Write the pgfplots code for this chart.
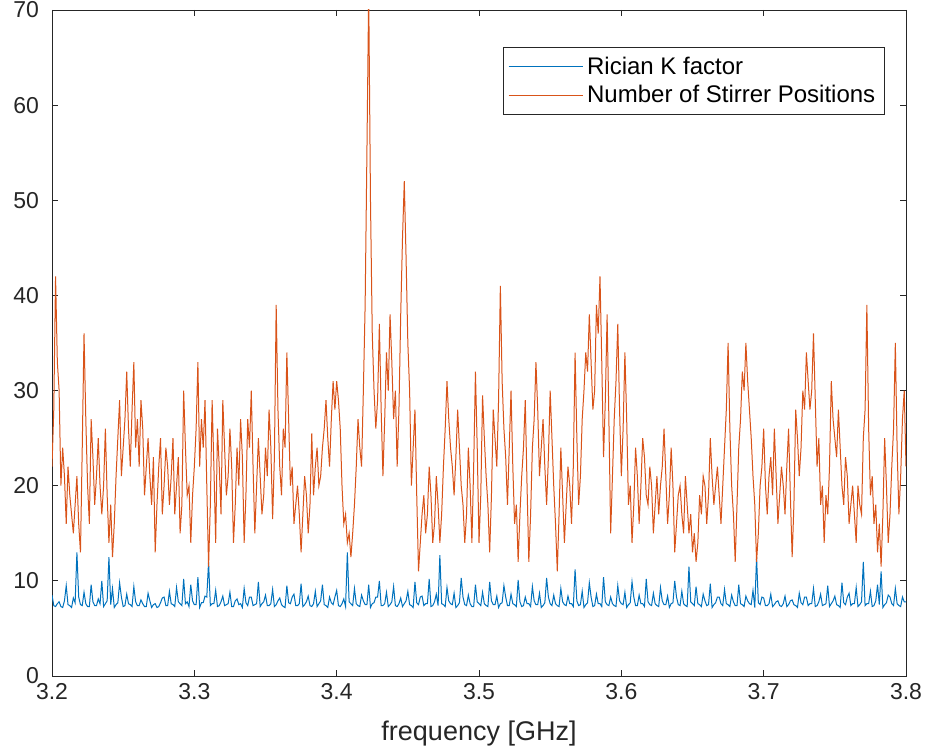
\documentclass[border=0pt]{standalone}
\usepackage{pgfplots}
\pgfplotsset{compat=1.18}
\usepackage{pgfplotstable}
\usepackage{fontspec}
\setmainfont{Liberation Sans}
\definecolor{mblue}{rgb}{0,0.447,0.741}
\definecolor{morange}{rgb}{0.85,0.325,0.098}
\definecolor{axgray}{rgb}{0.15,0.15,0.15}
\pgfplotsset{mlegend/.style={legend image code/.code={\draw[#1] (0pt,0pt) -- (37pt,0pt);}}}
\pgfplotstableread{
f k n
3.2000 8.5 22
3.20125 7.4 28
3.2025 7.3 42
3.20375 7.6 33
3.2050 7.8 30
3.20625 7.3 20
3.2075 7.2 24
3.20875 7.9 21
3.2100 9.5 16
3.21125 7.5 22
3.2125 7.4 19
3.21375 7.2 17
3.2150 8.2 15
3.21625 7.7 18
3.2175 13 21
3.21875 8.3 16
3.2200 7.5 13
3.22125 7.4 24
3.2225 8.8 36
3.22375 7.6 27
3.2250 7.3 20
3.22625 7.3 16
3.2275 9.6 27
3.22875 7.8 23
3.2300 7.4 18
3.23125 7.4 21
3.2325 8.1 25
3.23375 7.6 20
3.2350 10 17
3.23625 7.3 20
3.2375 7.6 26
3.23875 7.9 19
3.2400 12.5 14
3.24125 7.5 18
3.2425 9.2 12.5
3.24375 7.2 16
3.2450 7.5 21
3.24625 7.7 25
3.2475 9.8 29
3.24875 8.3 21
3.2500 7.3 24
3.25125 7.4 27
3.2525 8.6 32
3.25375 7.6 26
3.2550 7.5 22
3.25625 7.3 28
3.2575 9.4 33
3.25875 7.8 24
3.2600 7.4 27
3.26125 7.4 22
3.2625 8.0 29
3.26375 7.6 26
3.2650 7.3 19
3.26625 7.3 22
3.2675 8.7 25
3.26875 7.9 21
3.2700 7.2 18
3.27125 7.5 23
3.2725 7.6 13
3.27375 7.2 18
3.2750 7.3 22
3.27625 7.7 25
3.2775 8.2 17
3.27875 8.3 20
3.2800 7.4 24
3.28125 7.4 22
3.2825 8.9 18
3.28375 7.6 21
3.2850 7.5 25
3.28625 7.3 17
3.2875 9.3 20
3.28875 7.8 23
3.2900 7.6 15
3.29125 7.4 18
3.2925 10.2 30
3.29375 7.6 24
3.2950 7.8 19
3.29625 7.3 20
3.2975 9.6 14
3.29875 7.9 19
3.3000 7.5 22
3.30125 7.5 26
3.3025 10.4 33
3.30375 7.2 22
3.3050 7.7 27
3.30625 7.7 24
3.3075 8.4 29
3.30875 8.3 20
3.3100 12 11.5
3.31125 7.4 18
3.3125 7.6 29
3.31375 7.6 22
3.3150 9.0 14
3.31625 7.3 26
3.3175 7.4 22
3.31875 7.8 17
3.3200 8.4 29
3.32125 7.4 24
3.3225 7.5 19
3.32375 7.6 21
3.3250 8.8 26
3.32625 7.3 22
3.3275 7.3 14
3.32875 7.9 18
3.3300 8.1 24
3.33125 7.5 20
3.3325 7.6 27
3.33375 7.2 23
3.3350 9.2 14
3.33625 7.7 19
3.3375 7.4 27
3.33875 8.3 24
3.3400 8.3 30
3.34125 7.4 22
3.3425 7.5 15
3.34375 7.6 20
3.3450 9.9 25
3.34625 7.3 21
3.3475 7.6 17
3.34875 7.8 19
3.3500 8.5 24
3.35125 7.4 21
3.3525 7.4 28
3.35375 7.6 24
3.3550 9.1 16.5
3.35625 7.3 23
3.3575 7.5 39
3.35875 7.9 28
3.3600 8.2 22
3.36125 7.5 19
3.3625 7.3 26
3.36375 7.2 24
3.3650 9.5 34
3.36625 7.7 27
3.3675 7.6 20
3.36875 8.3 22
3.3700 8.6 16
3.37125 7.4 18
3.3725 7.4 20
3.37375 7.6 17
3.3750 9.7 13
3.37625 7.3 17
3.3775 7.5 21
3.37875 7.8 19
3.3800 8.4 15
3.38125 7.4 18
3.3825 7.3 25.5
3.38375 7.6 19
3.3850 8.9 22
3.38625 7.3 24
3.3875 7.6 20
3.38875 7.9 21
3.3900 9.6 24
3.39125 7.5 26
3.3925 7.4 29
3.39375 7.2 25
3.3950 8.3 22
3.39625 7.7 27
3.3975 7.5 31
3.39875 8.3 28
3.4000 9.0 31
3.40125 7.4 29
3.4025 7.3 26
3.40375 7.6 20
3.4050 8.1 16
3.40625 7.3 17
3.4075 13 14
3.40875 7.8 15
3.4100 7.6 12.5
3.41125 7.4 15
3.4125 9.2 18
3.41375 7.6 22
3.4150 7.4 27
3.41625 7.3 24
3.4175 8.5 22
3.41875 7.9 30
3.4200 7.5 39
3.42125 7.5 55
3.4225 9.6 72
3.42375 7.2 50
3.4250 7.6 36
3.42625 7.7 30
3.4275 8.3 26
3.42875 8.3 29
3.4300 10 37
3.43125 7.4 28
3.4325 7.4 21
3.43375 7.6 27
3.4350 8.8 34
3.43625 7.3 30
3.4375 7.5 38
3.43875 7.8 33
3.4400 9.4 27
3.44125 7.4 30
3.4425 7.3 22
3.44375 7.6 28
3.4450 8.2 38
3.44625 7.3 46
3.4475 7.6 52
3.44875 7.9 44
3.4500 8.9 35
3.45125 7.5 30
3.4525 7.4 20
3.45375 7.2 24
3.4550 9.9 28
3.45625 7.7 19
3.4575 7.5 11
3.45875 8.3 14
3.4600 8.4 17
3.46125 7.4 19
3.4625 7.6 15
3.46375 7.6 17
3.4650 10.2 22
3.46625 7.3 19
3.4675 7.4 14
3.46875 7.8 16
3.4700 8.6 21
3.47125 7.4 18
3.4725 12.7 14
3.47375 7.6 17
3.4750 7.5 22
3.47625 7.3 26
3.4775 9.3 31
3.47875 7.9 27
3.4800 7.6 24
3.48125 7.5 22
3.4825 8.7 19
3.48375 7.2 23
3.4850 7.4 28
3.48625 7.7 24
3.4875 10.3 20
3.48875 8.3 18
3.4900 7.5 14
3.49125 7.4 17
3.4925 8.5 24
3.49375 7.6 20
3.4950 7.3 14
3.49625 7.3 22
3.4975 9.6 32
3.49875 7.8 24
3.5000 7.6 14
3.50125 7.4 19
3.5025 8.8 29.5
3.50375 7.6 25
3.5050 7.4 21
3.50625 7.3 18
3.5075 9.9 13
3.50875 7.9 19
3.5100 7.5 28
3.51125 7.5 25
3.5125 8.4 22
3.51375 7.2 29
3.5150 7.6 41
3.51625 7.7 31
3.5175 9.5 26
3.51875 8.3 23
3.5200 7.4 18
3.52125 7.4 24
3.5225 8.6 30
3.52375 7.6 22
3.5250 7.5 16
3.52625 7.3 18
3.5275 10.1 12
3.52875 7.8 17
3.5300 7.3 21
3.53125 7.4 24
3.5325 8.3 29
3.53375 7.6 20
3.5350 7.6 12
3.53625 7.3 17
3.5375 9.4 24
3.53875 7.9 27
3.5400 7.5 33
3.54125 7.5 28
3.5425 8.7 21
3.54375 7.2 24
3.5450 7.4 27
3.54625 7.7 22
3.5475 10.3 18
3.54875 8.3 23
3.5500 7.6 30
3.55125 7.4 25
3.5525 8.5 20
3.55375 7.6 16
3.5550 7.4 11
3.55625 7.3 17
3.5575 9.2 24
3.55875 7.8 19
3.5600 7.5 14
3.56125 7.4 18
3.5625 8.4 22
3.56375 7.6 20
3.5650 7.6 16
3.56625 7.3 22
3.5675 11.2 34
3.56875 7.9 25
3.5700 7.4 18
3.57125 7.5 21
3.5725 8.9 27
3.57375 7.2 30
3.5750 7.5 34
3.57625 7.7 32
3.5775 9.8 38
3.57875 8.3 33
3.5800 7.3 28
3.58125 7.4 30
3.5825 8.6 39
3.58375 7.6 36
3.5850 7.6 42
3.58625 7.3 33
3.5875 10.4 23
3.58875 7.8 29
3.5900 7.5 38
3.59125 7.4 27
3.5925 8.3 15
3.59375 7.6 21
3.5950 7.4 27
3.59625 7.3 31
3.5975 9.5 37
3.59875 7.9 28
3.6000 7.6 21
3.60125 7.5 26
3.6025 8.8 34
3.60375 7.2 27
3.6050 7.5 18
3.60625 7.7 20
3.6075 9.9 14
3.60875 8.3 18
3.6100 7.4 24
3.61125 7.4 21
3.6125 8.5 16
3.61375 7.6 20
3.6150 7.6 25
3.61625 7.3 23
3.6175 10.2 19
3.61875 7.8 18
3.6200 7.5 22
3.62125 7.4 20
3.6225 8.7 15
3.62375 7.6 18
3.6250 7.4 21
3.62625 7.3 17
3.6275 9.3 20
3.62875 7.9 22
3.6300 7.5 26
3.63125 7.5 21
3.6325 8.4 16
3.63375 7.2 19
3.6350 7.6 24
3.63625 7.7 20
3.6375 10.0 13
3.63875 8.3 16
3.6400 7.5 19
3.64125 7.4 20
3.6425 8.9 17
3.64375 7.6 15
3.6450 7.4 21
3.64625 7.3 18
3.6475 11.5 15
3.64875 7.8 17
3.6500 7.6 13
3.65125 7.4 15
3.6525 9.4 12
3.65375 7.6 14
3.6550 7.5 19
3.65625 7.3 17
3.6575 8.6 21
3.65875 7.9 20
3.6600 7.4 16
3.66125 7.5 19
3.6625 9.7 25
3.66375 7.2 21
3.6650 7.5 18
3.66625 7.7 20
3.6675 8.3 22
3.66875 8.3 19
3.6700 7.6 16
3.67125 7.4 20
3.6725 9.1 24
3.67375 7.6 28
3.6750 7.5 35
3.67625 7.3 26
3.6775 8.5 20
3.67875 7.8 17
3.6800 7.4 12
3.68125 7.4 18
3.6825 9.6 24
3.68375 7.6 27
3.6850 7.5 32
3.68625 7.3 30
3.6875 8.4 35
3.68875 7.9 31
3.6900 7.6 28
3.69125 7.5 25
3.6925 9.0 21
3.69375 7.2 18
3.6950 12.5 12
3.69625 7.7 15
3.6975 7.5 20
3.69875 8.3 22
3.7000 8.2 26
3.70125 7.4 20
3.7025 7.4 17
3.70375 7.6 21
3.7050 8.6 23
3.70625 7.3 19
3.7075 7.5 26
3.70875 7.8 21
3.7100 7.9 16
3.71125 7.4 19
3.7125 7.3 22
3.71375 7.6 20
3.7150 8.4 17
3.71625 7.3 22
3.7175 7.5 26
3.71875 7.9 19
3.7200 8.0 12.5
3.72125 7.5 18
3.7225 7.4 28
3.72375 7.2 25
3.7250 8.7 21
3.72625 7.7 24
3.7275 7.5 30
3.72875 8.3 28
3.7300 8.3 34
3.73125 7.4 31
3.7325 7.6 28
3.73375 7.6 30
3.7350 9.2 36
3.73625 7.3 29
3.7375 7.4 22
3.73875 7.8 25
3.7400 8.6 18
3.74125 7.4 20
3.7425 7.5 14
3.74375 7.6 19
3.7450 9.5 17
3.74625 7.3 22
3.7475 7.6 31
3.74875 7.9 27
3.7500 8.4 25
3.75125 7.5 23
3.7525 7.4 28
3.75375 7.2 24
3.7550 9.8 20
3.75625 7.7 18
3.7575 7.5 23
3.75875 8.3 21
3.7600 8.7 16
3.76125 7.4 18
3.7625 7.6 20
3.76375 7.6 17
3.7650 9.3 14
3.76625 7.3 20
3.7675 7.5 18
3.76875 7.8 17
3.7700 12 25
3.77125 7.4 28
3.7725 7.6 39
3.77375 7.6 26
3.7750 8.9 19
3.77625 7.3 21
3.7775 7.4 16
3.77875 7.9 18
3.7800 9.6 13
3.78125 7.5 16
3.7825 11 11.5
3.78375 7.2 17
3.7850 7.5 25
3.78625 7.7 20
3.7875 8.5 14
3.78875 8.3 17
3.7900 7.6 22
3.79125 7.4 26
3.7925 9.2 35
3.79375 7.6 24
3.7950 7.4 17
3.79625 7.3 21
3.7975 8.3 27
3.79875 7.8 30
3.8000 7.8 22
}\datatab
\begin{document}
\begin{tikzpicture}
\begin{axis}[
  scale only axis,
  width=427pt, height=333pt,
  xmin=3.2, xmax=3.8, ymin=0, ymax=70,
  xtick={3.2,3.3,3.4,3.5,3.6,3.7,3.8},
  ytick={0,10,20,30,40,50,60,70},
  xticklabel style={/pgf/number format/.cd, fixed, fixed zerofill, precision=1},
  yticklabel style={xshift=-3pt},
  /pgf/number format/assume math mode=true,
  tick align=inside,
  major tick length=3pt,
  axis line style={axgray, line width=0.4pt},
  every tick/.style={axgray, line width=0.4pt},
  tick label style={font=\fontsize{11.5}{13}\selectfont, text=axgray},
  xlabel={frequency [GHz]},
  xlabel style={font=\fontsize{13.5}{15}\selectfont, text=axgray, yshift=-4pt},
  legend style={at={(0.975,0.944)}, anchor=north east, draw=axgray, line width=0.4pt,
    font=\fontsize{12}{15}\selectfont, inner sep=2.5pt, row sep=0pt,
    legend cell align=left},
  mlegend,
]
\addplot[mblue, line width=0.5pt] table[x=f, y=k] {\datatab};
\addlegendentry{Rician K factor}
\addplot[morange, line width=0.5pt] table[x=f, y=n] {\datatab};
\addlegendentry{Number of Stirrer Positions}
\end{axis}
\pgfresetboundingbox
\path ([xshift=-26pt,yshift=-38pt]current axis.south west) rectangle ([xshift=10pt,yshift=5pt]current axis.north east);
\end{tikzpicture}
\end{document}
